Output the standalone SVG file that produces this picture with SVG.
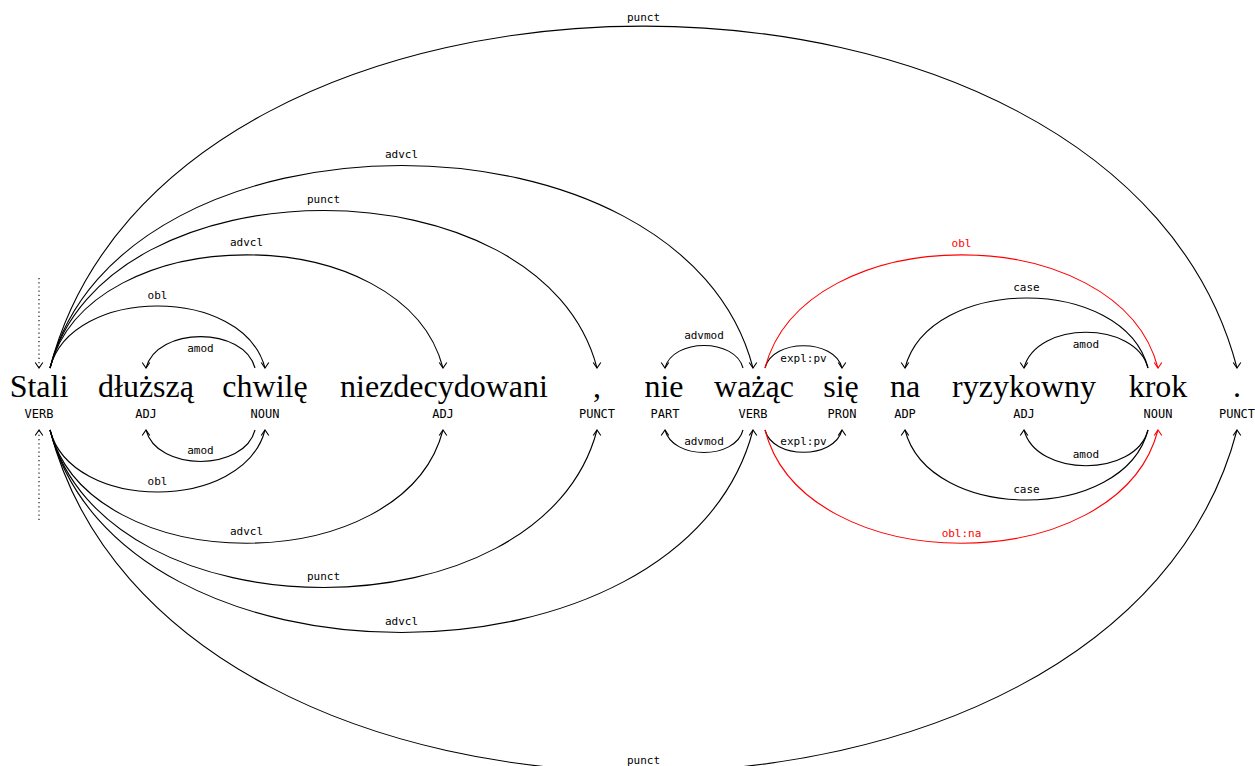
<svg xmlns="http://www.w3.org/2000/svg" width="1255" height="766" viewBox="0 0 1255 766">
<defs>
<marker id="ad" markerUnits="userSpaceOnUse" markerWidth="12" markerHeight="12" refX="0" refY="0" viewBox="-7 -6 8 12" orient="90" overflow="visible">
<path d="M-5.5,-3.8 L0,0 L-5.5,3.8" fill="none" stroke="#000" stroke-width="1.1"/>
</marker>
<marker id="au" markerUnits="userSpaceOnUse" markerWidth="12" markerHeight="12" refX="0" refY="0" viewBox="-7 -6 8 12" orient="-90" overflow="visible">
<path d="M-5.5,-3.8 L0,0 L-5.5,3.8" fill="none" stroke="#000" stroke-width="1.1"/>
</marker>
<marker id="adr" markerUnits="userSpaceOnUse" markerWidth="12" markerHeight="12" refX="0" refY="0" viewBox="-7 -6 8 12" orient="90" overflow="visible">
<path d="M-5.5,-3.8 L0,0 L-5.5,3.8" fill="none" stroke="#f00" stroke-width="1.1"/>
</marker>
<marker id="aur" markerUnits="userSpaceOnUse" markerWidth="12" markerHeight="12" refX="0" refY="0" viewBox="-7 -6 8 12" orient="-90" overflow="visible">
<path d="M-5.5,-3.8 L0,0 L-5.5,3.8" fill="none" stroke="#f00" stroke-width="1.1"/>
</marker>
</defs>
<style>
.w{font-family:"Liberation Serif","DejaVu Serif",serif;font-size:32px;fill:#000;text-anchor:middle}
.t{font-family:"DejaVu Sans Mono","Liberation Mono",monospace;font-size:12px;fill:#000;text-anchor:middle}
.l{font-family:"DejaVu Sans Mono","Liberation Mono",monospace;font-size:11px;fill:#000;text-anchor:middle}
.lr{fill:#f00}
.a,.b{fill:none;stroke:#000;stroke-width:1.1}
.r,.s{fill:none;stroke:#f00;stroke-width:1.1}
.a{marker-end:url(#ad)}
.b{marker-end:url(#au)}
.r{marker-end:url(#adr)}
.s{marker-end:url(#aur)}
.root{stroke-dasharray:1.2 3}
</style>
<rect width="1255" height="766" fill="#fff"/>
<g id="connectors">
<path class="a root" d="M39,278 L39,368"/>
<path class="b root" d="M39,520 L39,430"/>
<path class="a" d="M50,368 C71.5,285.4 243.5,285.4 265,368"/>
<path class="a" d="M50,368 C89.3,217.1 403.7,217.1 443,368"/>
<path class="a" d="M50,368 C104.7,158 542.3,158 597,368"/>
<path class="a" d="M50,368 C120.3,98 682.7,98 753,368"/>
<path class="a" d="M50,368 C168.7,-87.8 1118.3,-87.8 1237,368"/>
<path class="a" d="M255,368 C244.1,326.1 156.9,326.1 146,368"/>
<path class="a" d="M743,368 C735.2,338 672.8,338 665,368"/>
<path class="a" d="M765,368 C772.7,338.4 834.3,338.4 842,368"/>
<path class="r" d="M765,368 C804.3,217.1 1118.7,217.1 1158,368"/>
<path class="a" d="M1148,368 C1123.7,274.7 929.3,274.7 905,368"/>
<path class="a" d="M1148,368 C1135.6,320.4 1036.4,320.4 1024,368"/>
<path class="b" d="M50,430 C71.5,512.6 243.5,512.6 265,430"/>
<path class="b" d="M50,430 C89.3,580.9 403.7,580.9 443,430"/>
<path class="b" d="M50,430 C104.7,640 542.3,640 597,430"/>
<path class="b" d="M50,430 C120.3,700 682.7,700 753,430"/>
<path class="b" d="M50,430 C168.7,885.8 1118.3,885.8 1237,430"/>
<path class="b" d="M255,430 C244.1,471.9 156.9,471.9 146,430"/>
<path class="b" d="M743,430 C735.2,460 672.8,460 665,430"/>
<path class="b" d="M765,430 C772.7,459.6 834.3,459.6 842,430"/>
<path class="s" d="M765,430 C804.3,580.9 1118.7,580.9 1158,430"/>
<path class="b" d="M1148,430 C1123.7,523.3 929.3,523.3 905,430"/>
<path class="b" d="M1148,430 C1135.6,477.6 1036.4,477.6 1024,430"/>
<g id="labels">
<text class="l" x="157.5" y="299">obl</text>
<text class="l" x="246.5" y="246">advcl</text>
<text class="l" x="323.5" y="203">punct</text>
<text class="l" x="401.5" y="158">advcl</text>
<text class="l" x="643.5" y="21">punct</text>
<text class="l" x="200.5" y="352">amod</text>
<text class="l" x="704" y="339">advmod</text>
<text class="l" x="803.5" y="362">expl:pv</text>
<text class="l lr" x="961.5" y="247">obl</text>
<text class="l" x="1026.5" y="291">case</text>
<text class="l" x="1086" y="348">amod</text>
<text class="l" x="200.5" y="454">amod</text>
<text class="l" x="157.5" y="485">obl</text>
<text class="l" x="246.5" y="535">advcl</text>
<text class="l" x="323.5" y="580">punct</text>
<text class="l" x="401.5" y="625">advcl</text>
<text class="l" x="643.5" y="764">punct</text>
<text class="l" x="704" y="445">advmod</text>
<text class="l" x="803.5" y="445">expl:pv</text>
<text class="l" x="1086" y="458">amod</text>
<text class="l" x="1026.5" y="493">case</text>
<text class="l lr" x="961.5" y="537">obl:na</text>
</g>
</g>
<g id="n1"><text class="w" x="39" y="397">Stali</text><text class="t" x="39" y="418">VERB</text></g>
<g id="n2"><text class="w" x="146" y="397">dłuższą</text><text class="t" x="146" y="418">ADJ</text></g>
<g id="n3"><text class="w" x="265" y="397">chwilę</text><text class="t" x="265" y="418">NOUN</text></g>
<g id="n4"><text class="w" x="444" y="397">niezdecydowani</text><text class="t" x="443" y="418">ADJ</text></g>
<g id="n5"><text class="w" x="597" y="397">,</text><text class="t" x="597" y="418">PUNCT</text></g>
<g id="n6"><text class="w" x="664" y="397">nie</text><text class="t" x="665" y="418">PART</text></g>
<g id="n7"><text class="w" x="754" y="397">ważąc</text><text class="t" x="753" y="418">VERB</text></g>
<g id="n8"><text class="w" x="841" y="397">się</text><text class="t" x="842" y="418">PRON</text></g>
<g id="n9"><text class="w" x="905" y="397">na</text><text class="t" x="905" y="418">ADP</text></g>
<g id="n10"><text class="w" x="1024" y="397">ryzykowny</text><text class="t" x="1024" y="418">ADJ</text></g>
<g id="n11"><text class="w" x="1158" y="397">krok</text><text class="t" x="1158" y="418">NOUN</text></g>
<g id="n12"><text class="w" x="1237" y="397">.</text><text class="t" x="1237" y="418">PUNCT</text></g>
</svg>
